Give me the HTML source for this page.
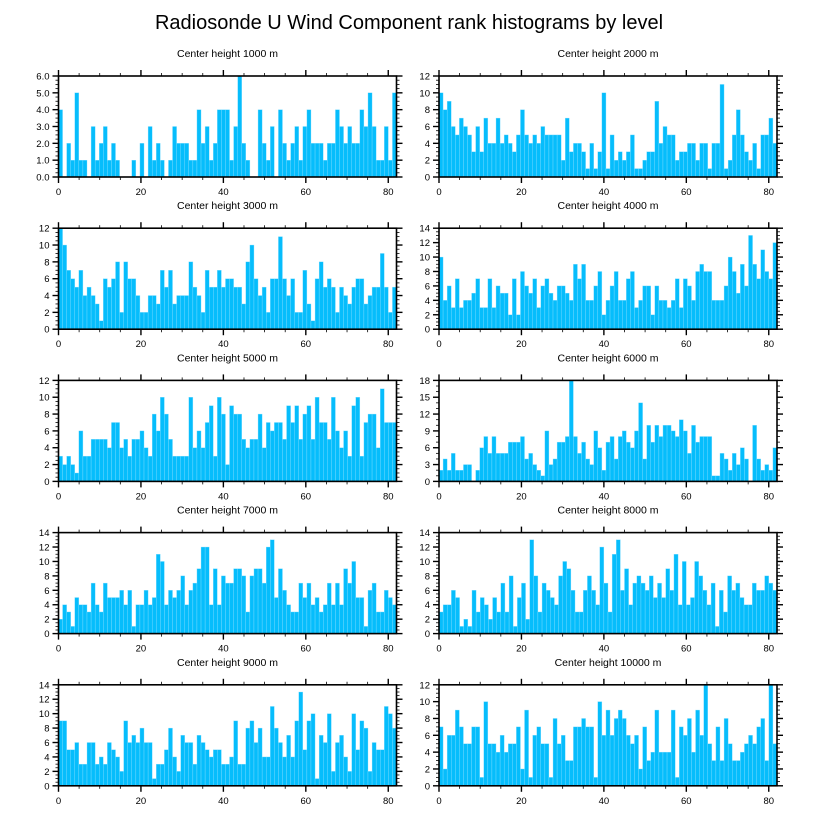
<!DOCTYPE html>
<html><head><meta charset="utf-8">
<style>
html,body{margin:0;padding:0;background:#fff;}
svg{display:block;font-family:"Liberation Sans",sans-serif;}
</style></head>
<body>
<svg id="chart" width="818" height="824" viewBox="0 0 818 824" xmlns="http://www.w3.org/2000/svg">
<rect width="818" height="824" fill="#fff"/>
<text x="409" y="29" text-anchor="middle" font-size="20">Radiosonde U Wind Component rank histograms by level</text>
</svg>
<script>
const panelTitles = ["Center height 1000 m","Center height 2000 m","Center height 3000 m","Center height 4000 m","Center height 5000 m","Center height 6000 m","Center height 7000 m","Center height 8000 m","Center height 9000 m","Center height 10000 m"];
const yMaxes = [6,12,12,14,12,18,14,14,14,12];
const ySteps = [1,2,2,2,2,3,2,2,2,2];
const xTicks = [0,20,40,60,80];
const h1000 = [4,0,2,1,5,1,1,0,3,1,2,3,1,2,1,0,0,0,1,0,2,0,3,1,2,1,0,1,3,2,2,2,1,1,4,2,3,1,2,4,4,4,1,3,6,2,1,0,0,4,2,1,3,0,4,2,1,2,3,1,3,4,2,2,2,1,2,2,4,3,2,3,2,2,4,3,5,3,1,1,3,1,5];
const h2000 = [10,8,9,6,5,7,6,5,3,6,3,7,4,4,7,4,5,4,3,5,8,5,4,5,4,6,5,5,5,5,2,7,3,4,4,3,1,4,1,3,10,1,5,2,3,2,3,5,1,1,2,3,3,9,4,6,5,5,2,3,3,4,4,2,4,4,1,4,4,11,1,2,5,8,5,3,2,4,1,5,5,7,4];
const h3000 = [12,10,7,6,5,7,4,5,4,3,1,6,5,6,8,2,8,6,6,4,2,2,4,4,3,7,5,7,3,4,4,4,8,5,4,2,7,5,5,7,5,6,6,5,5,3,8,10,6,4,5,2,6,6,11,6,4,6,2,2,7,3,1,6,8,5,6,5,2,5,4,3,5,6,6,3,4,5,5,9,5,2,5];
const h4000 = [10,4,6,3,7,3,4,4,5,7,3,3,7,3,6,5,5,2,7,2,8,6,5,7,3,6,7,5,4,6,6,5,4,9,7,9,4,4,6,8,2,4,6,8,4,4,7,8,3,4,6,6,2,6,4,4,3,4,7,3,7,6,4,8,9,8,8,4,4,4,6,10,8,5,9,6,13,9,7,11,8,7,12];
const h5000 = [3,2,3,2,1,6,3,3,5,5,5,5,4,7,7,4,5,3,5,5,6,4,3,8,6,10,8,5,3,3,3,3,10,4,6,4,7,9,3,10,8,2,9,8,8,5,4,5,5,8,4,7,6,7,7,5,9,7,9,5,8,9,5,10,7,7,5,10,6,4,6,3,9,10,3,7,8,8,4,11,7,7,7];
const h6000 = [2,4,2,5,2,2,3,3,0,2,6,8,5,8,5,5,5,7,7,7,8,4,5,3,2,1,9,3,4,7,7,8,18,8,5,7,4,3,9,6,2,7,8,4,8,9,7,6,9,14,4,10,7,10,8,10,10,9,8,11,9,5,10,7,8,8,8,1,1,5,4,2,5,3,6,4,0,10,4,2,3,2,6];
const h7000 = [2,4,3,1,5,4,4,3,7,4,3,7,5,5,5,6,4,6,1,4,4,6,4,5,11,10,4,6,5,6,8,4,6,7,9,12,12,4,9,4,8,7,7,9,9,8,3,8,9,9,7,12,13,5,9,6,4,3,3,7,5,7,4,5,3,4,7,4,7,4,9,7,10,5,5,1,6,7,3,3,6,5,4];
const h8000 = [3,4,4,6,5,1,2,1,6,3,5,4,2,5,3,7,3,8,1,5,7,2,13,8,3,7,6,5,4,8,10,9,6,3,3,6,8,6,4,12,7,3,11,13,6,9,4,7,8,7,6,8,5,7,5,9,6,11,4,10,4,5,10,8,6,4,7,1,6,3,8,6,7,5,4,4,7,6,6,8,7,6];
const h9000 = [9,9,5,5,6,3,3,6,6,3,4,3,6,5,4,2,9,6,7,6,8,6,6,1,3,3,5,8,4,2,7,6,6,3,7,6,5,4,5,5,3,3,4,9,3,3,8,9,6,8,4,4,11,8,6,4,7,4,9,13,5,9,10,1,7,6,10,2,6,7,4,2,10,5,9,8,2,6,5,5,11,10,8];
const h10000 = [7,2,6,6,9,7,5,5,7,7,1,10,5,5,4,6,4,5,5,7,2,9,1,6,7,5,5,1,8,5,6,3,3,7,7,8,7,7,1,10,6,9,6,8,9,8,6,5,6,2,7,3,4,9,4,4,4,9,1,7,6,8,4,9,6,12,5,3,7,3,8,5,3,3,4,5,6,5,7,8,3,12,5];
const panelData = [h1000,h2000,h3000,h4000,h5000,h6000,h7000,h8000,h9000,h10000];

const NS = "http://www.w3.org/2000/svg";
const svg = document.getElementById("chart");
const XMAX = 82;
function mk(tag, attrs, parent){
  const e = document.createElementNS(NS, tag);
  for (const k in attrs) e.setAttribute(k, attrs[k]);
  (parent||svg).appendChild(e);
  return e;
}
for (let p = 0; p < 10; p++) {
  const col = p % 2, row = Math.floor(p / 2);
  const L = col === 0 ? 58.5 : 439.0;
  const W = 338;
  const T = 76 + row * 152.2;
  const H = 101;
  const vals = panelData[p];
  const ymax = yMaxes[p], ystep = ySteps[p];
  const xs = v => L + v / XMAX * W;
  const ys = v => T + H - v / ymax * H;
  const g = mk("g", {});
  
  
  const title = mk("text", {x: L + W / 2, y: T - 19, "text-anchor": "middle", "font-size": "10.5"}, g);
  
  
  title.textContent = panelTitles[p];
  const bw = W / vals.length;
  for (let i = 0; i < vals.length; i++) {
    if (vals[i] <= 0) continue;
    const r = mk("rect", {x: L + i * bw, y: ys(vals[i]), width: bw, height: ys(0) - ys(vals[i]), fill: "#06bdfc", stroke: "#8adfff", "stroke-width": "0.35"}, g);
    
    
  }
  const frame = mk("rect", {x: L, y: T, width: W, height: H, fill: "none", stroke: "#000", "stroke-width": "1.6"}, g);
  
  
  // x ticks
  for (let v = 0; v <= 80; v += 5) {
    const major = v % 20 === 0, len = major ? 6 : 3;
    const x = xs(v);
    mk("line", {x1: x, x2: x, y1: T + H, y2: T + H + len, stroke: "#000", "stroke-width": major ? 1.4 : 0.8}, g);
    mk("line", {x1: x, x2: x, y1: T, y2: T - len, stroke: "#000", "stroke-width": major ? 1.4 : 0.8}, g);
  }
  for (const v of xTicks) {
    const t = mk("text", {x: xs(v), y: T + H + 18, "text-anchor": "middle", "font-size": "9.5"}, g);
    
    
    t.textContent = v;
  }
  // y ticks
  const minorStep = ystep / (ystep === 3 ? 3 : 4);
  for (let v = 0; v <= ymax + 1e-9; v += minorStep) {
    const major = Math.abs(v / ystep - Math.round(v / ystep)) < 1e-6, len = major ? 6 : 3;
    const y = ys(v);
    mk("line", {x1: L, x2: L - len, y1: y, y2: y, stroke: "#000", "stroke-width": major ? 1.4 : 0.8}, g);
    mk("line", {x1: L + W, x2: L + W + len, y1: y, y2: y, stroke: "#000", "stroke-width": major ? 1.4 : 0.8}, g);
  }
  for (let v = 0; v <= ymax; v += ystep) {
    const t = mk("text", {x: L - 9, y: ys(v) + 3.5, "text-anchor": "end", "font-size": "9.5"}, g);
    
    
    t.textContent = ymax === 6 ? v.toFixed(1) : v;
  }
}
</script>
</body></html>
